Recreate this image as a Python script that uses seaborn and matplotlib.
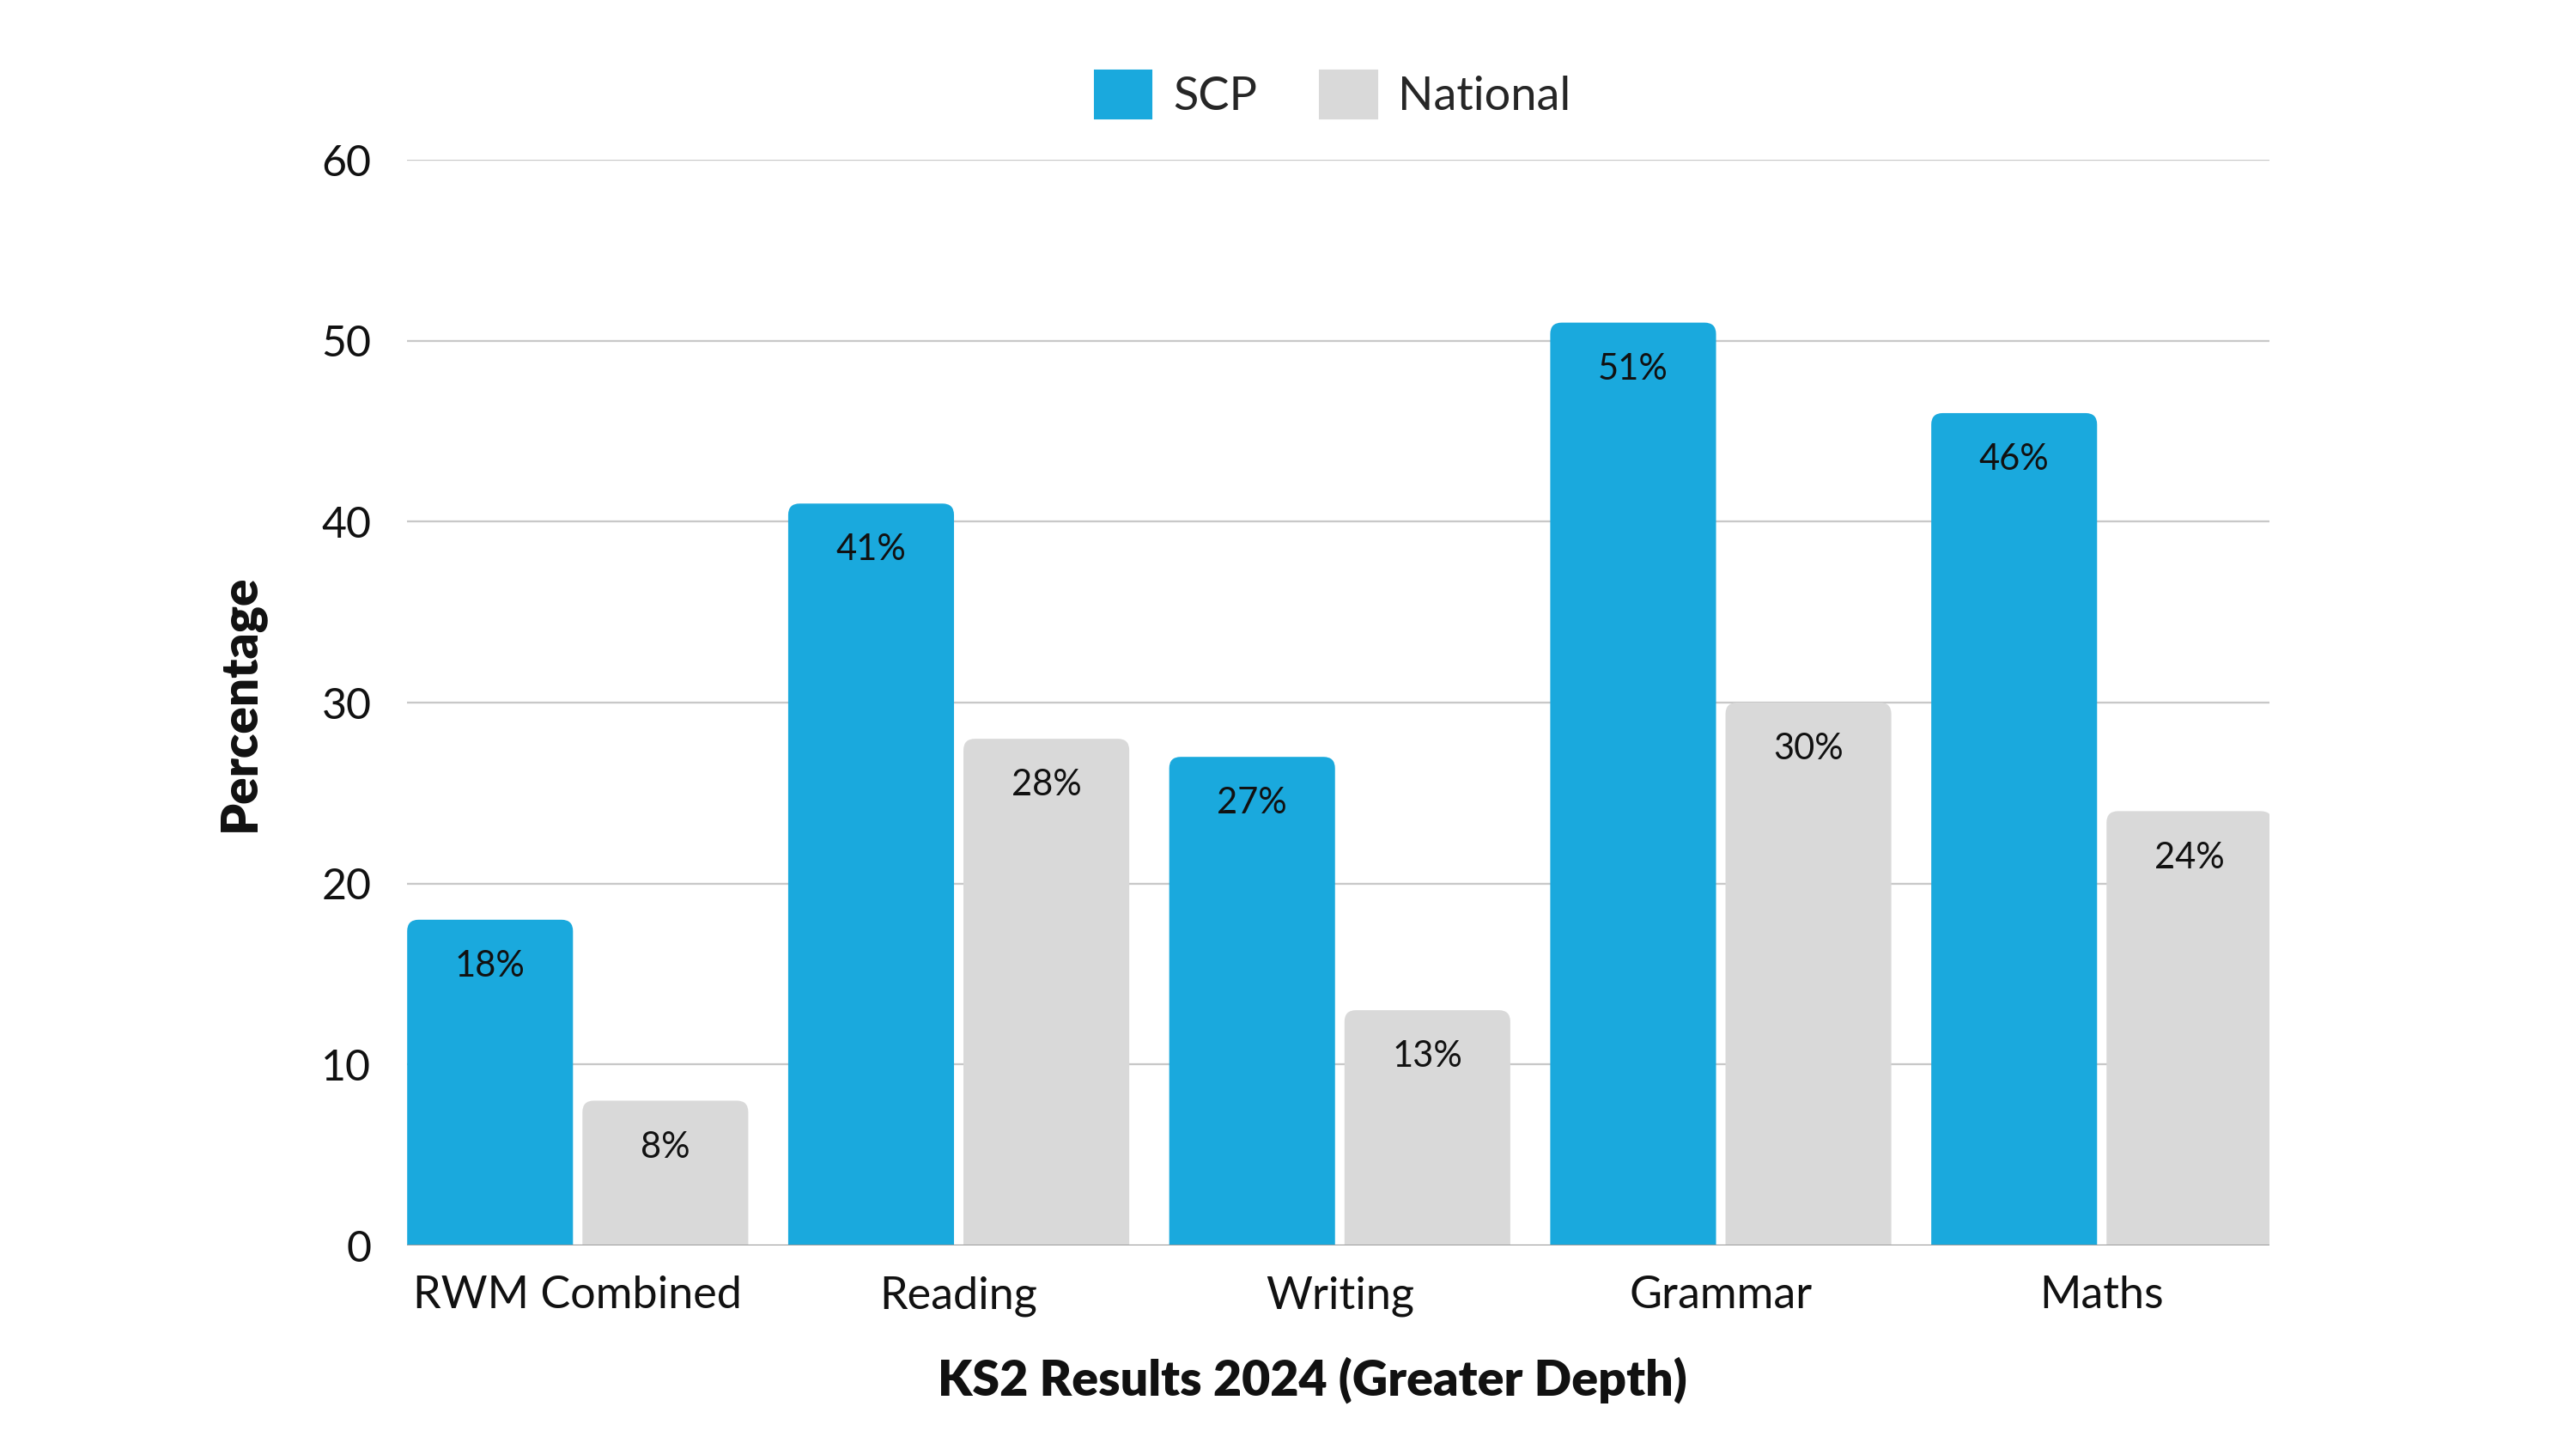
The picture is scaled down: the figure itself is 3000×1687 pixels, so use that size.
import matplotlib
matplotlib.use("Agg")
import matplotlib.pyplot as plt
from matplotlib.patches import FancyBboxPatch
import seaborn as sns
import pandas as pd

# data
subjects = ["RWM Combined", "Reading", "Writing", "Grammar", "Maths"]
scp = [18, 41, 27, 51, 46]
national = [8, 28, 13, 30, 24]
series = ["SCP", "National"]
colors = {"SCP": "#1AA9DD", "National": "#D9D9D9"}

df = pd.DataFrame({
    "subject": subjects * 2,
    "group": ["SCP"] * len(subjects) + ["National"] * len(subjects),
    "value": scp + national,
})

sns.set_theme(style="white")
plt.rcParams["font.family"] = ["Lato", "DejaVu Sans"]

fig = plt.figure(figsize=(20, 11.247), dpi=150)
ax = fig.add_axes([0.158, 0.1405, 0.723, 0.7492])

sns.barplot(data=df, x="subject", y="value", hue="group", hue_order=series,
            palette=colors, width=0.92, gap=0.054, saturation=1,
            order=subjects, ax=ax, legend=False, zorder=3)

ax.set_ylim(0, 60)
ax.set_xlim(-0.448, 4.44)
ax.set_yticks(range(0, 61, 10))
ax.yaxis.grid(True, color="#C8C8C8", linewidth=1.1, zorder=0)
ax.set_axisbelow(True)
for s in ax.spines.values():
    s.set_visible(False)
ax.axhline(0, color="#9A9A9A", linewidth=1.4, zorder=4)

# swap the plain bars for rounded ones
for patch in list(ax.patches):
    x, y = patch.get_x(), patch.get_y()
    w, h = patch.get_width(), patch.get_height()
    fc = patch.get_facecolor()
    patch.set_visible(False)
    rb = FancyBboxPatch((x, y - 1), w, h + 1,
                        boxstyle="round,pad=0,rounding_size=0.03",
                        mutation_aspect=21, facecolor=fc, edgecolor="none",
                        zorder=3)
    ax.add_patch(rb)

# value labels inside the bars
for cont, vals in zip(ax.containers, [scp, national]):
    for bar, v in zip(cont, vals):
        ax.annotate(f"{v}%", (bar.get_x() + bar.get_width() / 2, v),
                    xytext=(0, -26), textcoords="offset points",
                    ha="center", va="center", fontsize=20, color="#111111",
                    zorder=5)

ax.tick_params(axis="x", length=0, pad=17, labelsize=25, colors="#111111")
ax.tick_params(axis="y", length=0, pad=20, labelsize=24, colors="#111111")

ax.set_xlabel("KS2 Results 2024 (Greater Depth)", fontsize=27.5,
              fontweight="heavy", color="#111111")
ax.set_ylabel("Percentage", fontsize=28, fontweight="heavy", color="#111111")
ax.xaxis.set_label_coords(0.486, -0.124)
ax.xaxis.label.set_va("center")
ax.yaxis.set_label_coords(-0.089, 0.5)
ax.yaxis.label.set_va("center")

handles = [plt.Rectangle((0, 0), 1, 1, color=colors[s]) for s in series]
ax.legend(handles, series, loc="center", bbox_to_anchor=(0.497, 1.06),
          ncol=2, frameon=False, fontsize=26, handlelength=1.23,
          handleheight=1.23, handletextpad=0.45, columnspacing=1.35)

fig.savefig("out.png", dpi=150, facecolor="white")
